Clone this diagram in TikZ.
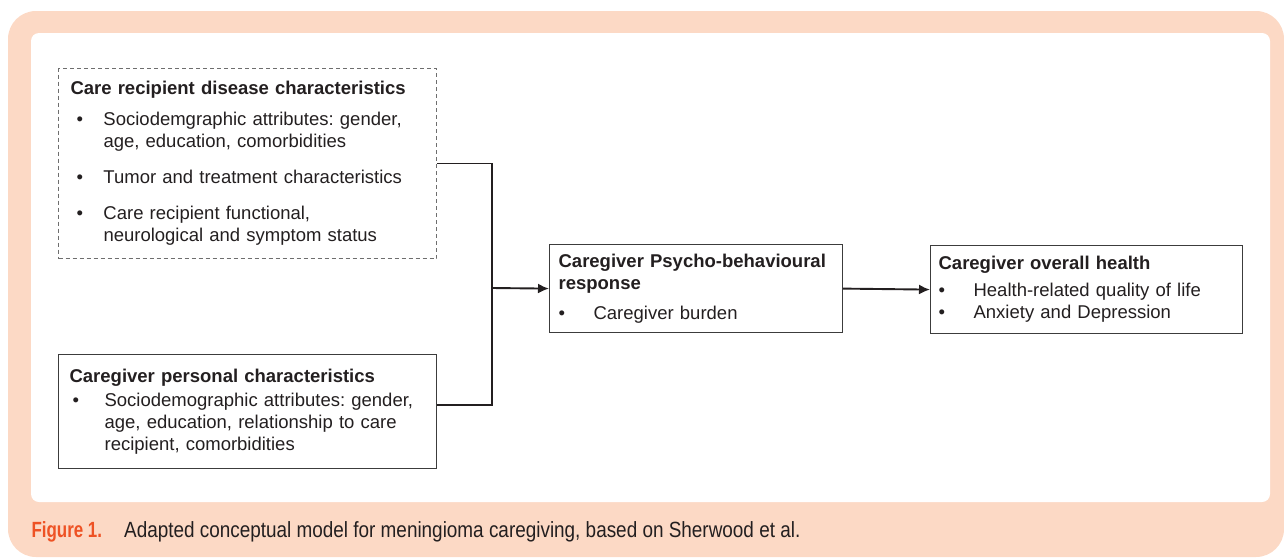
\documentclass[tikz,border=0pt]{standalone}
\usepackage{fontspec}
\setmainfont{Liberation Sans}
\newfontfamily\capfont[FakeStretch=0.86,BoldFeatures={FakeStretch=0.77}]{Liberation Sans}
\usepackage{xcolor}
\usetikzlibrary{arrows.meta, positioning}
\definecolor{panelpeach}{RGB}{252,217,197}
\definecolor{figorange}{RGB}{238,82,36}
\definecolor{inkdark}{RGB}{35,31,32}
\definecolor{boxgray}{RGB}{60,60,60}
\definecolor{dashgray}{RGB}{110,110,110}
\newcommand{\blt}[2]{\makebox[#1][l]{\hspace{#2}\textbullet}}
\frenchspacing

\begin{document}
\begin{tikzpicture}[x=1pt,y=-1pt,
  every node/.style={font=\fontsize{18.5}{22}\selectfont,text=inkdark,align=left,anchor=north west},
  factorbox/.style={draw=boxgray,line width=1.2pt},
  conn/.style={draw=inkdark,line width=1.9pt},
  tip/.style={-{Latex[length=11pt,width=10pt]}}]
  \useasboundingbox (0,0) rectangle (1284,557);
  % panel
  \fill[panelpeach,rounded corners=28pt] (8,11) rectangle (1284,557);
  \fill[white,rounded corners=8pt] (31,33) rectangle (1270,502);

  \node[draw=dashgray,line width=1pt,dash pattern=on 4pt off 3pt,text width=354pt,inner xsep=12pt,
    minimum height=190pt] (care) at (58,68)
    {\textbf{Care recipient disease characteristics}\\[9pt]
     \blt{33pt}{6pt}Sociodemgraphic attributes: gender,\\
     \hspace*{33pt}age, education, comorbidities\\[14pt]
     \blt{33pt}{6pt}Tumor and treatment characteristics\\[14pt]
     \blt{33pt}{6pt}Care recipient functional,\\
     \hspace*{33pt}neurological and symptom status};
  \node[factorbox,text width=356pt,inner xsep=11pt,minimum height=114pt] (giver) at (58,354)
    {\textbf{Caregiver personal characteristics}\\[2pt]
     \blt{35pt}{3pt}Sociodemographic attributes: gender,\\
     \hspace*{35pt}age, education, relationship to care\\
     \hspace*{35pt}recipient, comorbidities};
  \node[factorbox,text width=275pt,inner xsep=9pt,minimum height=88pt] (resp) at (549,244)
    {\textbf{Caregiver Psycho-behavioural}\\
     \textbf{response}\\[8pt]
     \blt{35pt}{0pt}Caregiver burden};
  \node[factorbox,text width=296pt,inner xsep=8pt,minimum height=88pt] (health) at (930,245)
    {\textbf{Caregiver overall health}\\[5pt]
     \blt{35pt}{0pt}Health-related quality of life\\
     \blt{35pt}{0pt}Anxiety and Depression};

  \coordinate (mid) at (492,288);
  \draw[conn] (care.east) -| (mid);
  \draw[conn] ([yshift=7pt]giver.east) -| (mid);
  \draw[conn,tip] (mid) -- (resp.west);
  \draw[conn,tip] (resp.east) -- (health.west);

  \node[anchor=west,font=\capfont\fontsize{22}{25}\selectfont] (caption) at (28,532)
    {\textcolor{figorange}{\bfseries Figure 1.}\hspace{22pt}Adapted conceptual model for meningioma caregiving, based on Sherwood et al.};
\end{tikzpicture}
\end{document}
